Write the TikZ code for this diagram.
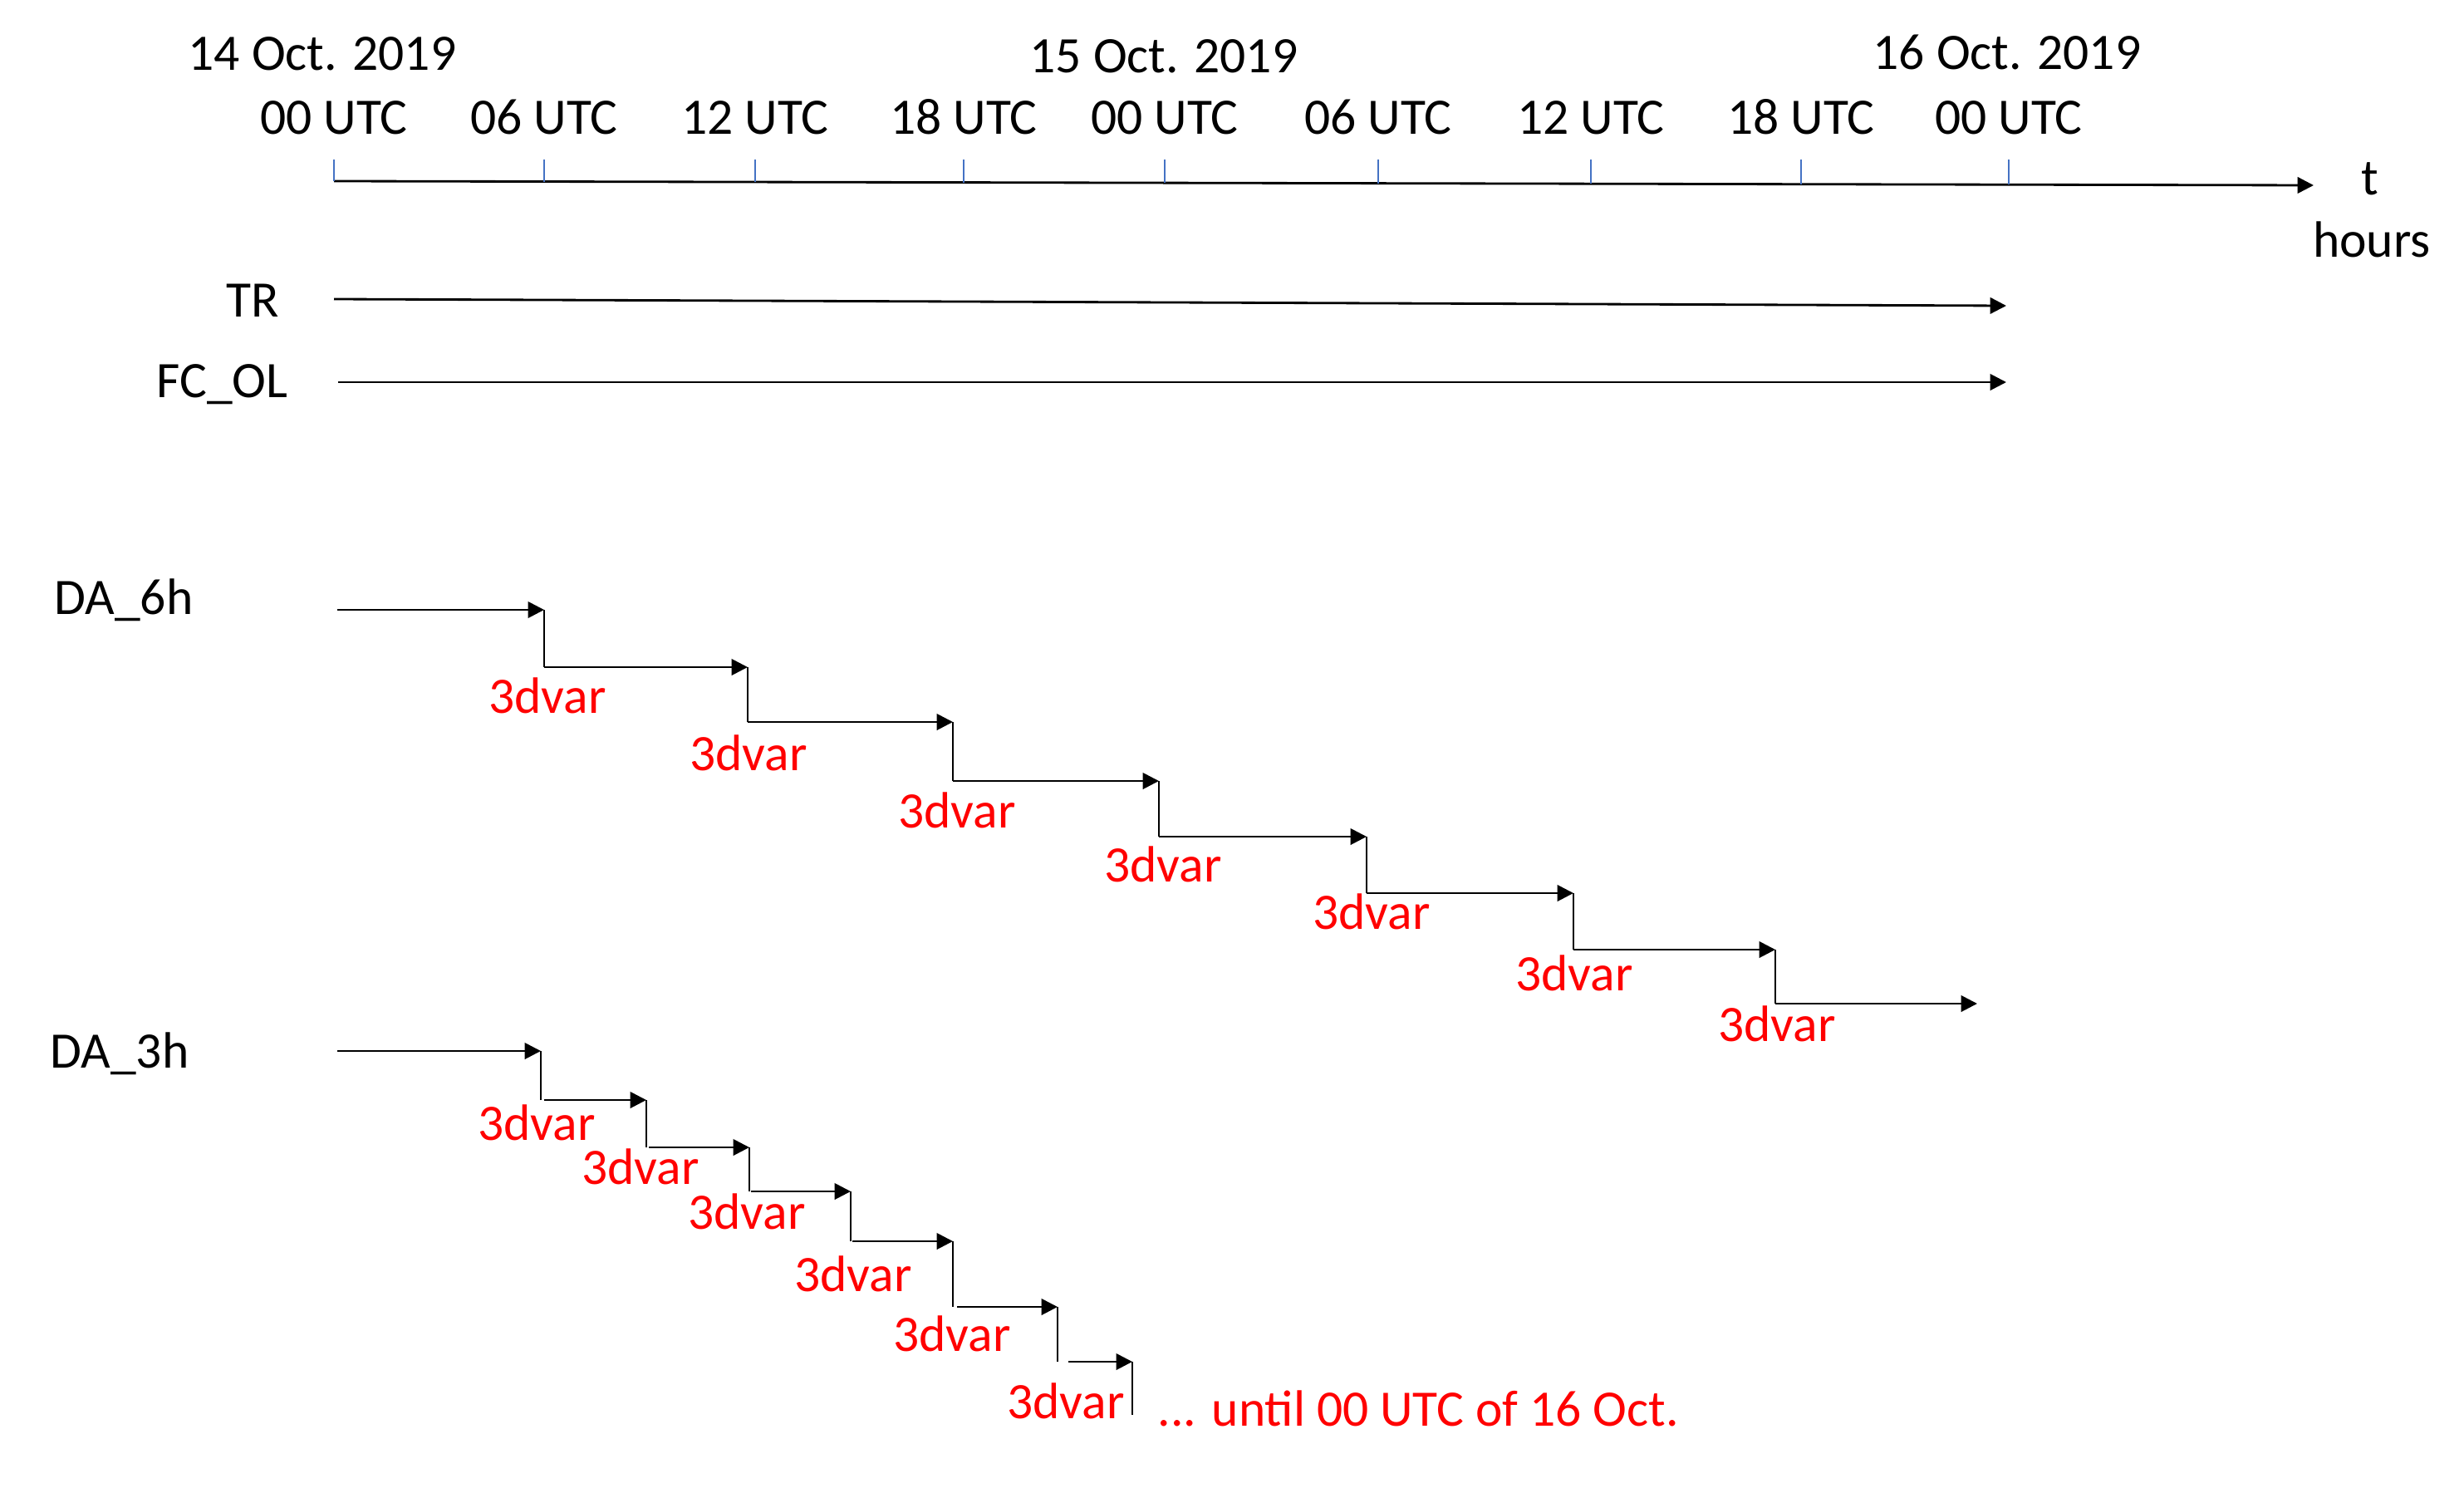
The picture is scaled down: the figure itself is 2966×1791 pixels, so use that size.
\documentclass[tikz,border=0pt]{standalone}
\usepackage{fontspec}
\setmainfont{Carlito}
\usetikzlibrary{arrows.meta}
\definecolor{tickblue}{HTML}{4472C4}
\definecolor{dared}{RGB}{255,0,0}
\begin{document}
\begin{tikzpicture}[x=0.01cm,y=-0.01cm,
  lbl/.style={font=\fontsize{17.5}{21}\selectfont, inner sep=0pt},
  redlbl/.style={lbl, text=dared},
  harrow/.style={line width=0.8pt, -{Triangle[length=5.5pt,width=5.5pt]}},
  vline/.style={line width=0.5pt},
  tickline/.style={tickblue, line width=0.45pt}]
\useasboundingbox (0,0) rectangle (2966,1791);
% dates
\node[lbl, anchor=base] (d14) at (388,85) {14 Oct. 2019};
\node[lbl, anchor=base] (d15) at (1401,88) {15 Oct. 2019};
\node[lbl, anchor=base] (d16) at (2416,84) {16 Oct. 2019};
% time axis
\coordinate (ax0) at (402,218);
\coordinate (ax1) at (2785,223);
\draw[harrow] (ax0) -- (ax1);
\foreach \x/\l [count=\i] in {402/00,655/06,909/12,1160/18,1402/00,1659/06,1915/12,2168/18,2418/00} {
  \node[lbl, anchor=base] (u\i) at (\x,162) {\l\ UTC};
  \coordinate (tk\i) at (\x,192);
  \coordinate (tb\i) at (\x,{218+(\x-402)*5/2383});
  \draw[tickline] (tk\i) -- (tb\i);
}
\node[lbl, anchor=base] (t) at (2853,235) {t};
\node[lbl, anchor=base] (hrs) at (2855,310) {hours};
% TR and FC_OL
\node[lbl, anchor=base east] (tr) at (337,381) {TR};
\coordinate (tr0) at (402,360);
\coordinate (tr1) at (2415,368);
\draw[harrow] (tr0) -- (tr1);
\node[lbl, anchor=base west] (fc) at (188,478) {FC\_OL};
\coordinate (fc0) at (407,460);
\coordinate (fc1) at (2415,460);
\draw[harrow] (fc0) -- (fc1);
% DA_6h
\node[lbl, anchor=base west] (da6) at (65,739) {DA\_6h};
\foreach \xa/\xb/\ya/\yb [count=\i] in {406/655/734/803, 655/900/803/869, 900/1147/869/940, 1147/1395/940/1007, 1395/1645/1007/1075, 1645/1894/1075/1143, 1894/2137/1143/1208} {
  \coordinate (a6s\i) at (\xa,\ya);
  \coordinate (a6e\i) at (\xb,\ya);
  \coordinate (a6v\i) at (\xb,\yb);
  \draw[harrow] (a6s\i) -- (a6e\i);
  \draw[vline] (a6e\i) -- (a6v\i);
}
\coordinate (a6end) at (2380,1208);
\draw[harrow] (a6v7) -- (a6end);
\foreach \x/\y [count=\i] in {659/858, 901/927, 1152/996, 1400/1061, 1651/1118, 1895/1192, 2139/1253} {
  \node[redlbl, anchor=base] (v6-\i) at (\x,\y) {3dvar};
}
% DA_3h
\node[lbl, anchor=base west] (da3) at (60,1285) {DA\_3h};
\foreach \xa/\xb/\ya/\yb [count=\i] in {406/651/1265/1324, 655/778/1324/1381, 781/902/1381/1434, 904/1024/1434/1494, 1026/1147/1494/1573, 1152/1273/1573/1639, 1286/1363/1639/1703} {
  \coordinate (a3s\i) at (\xa,\ya);
  \coordinate (a3e\i) at (\xb,\ya);
  \coordinate (a3v\i) at (\xb,\yb);
  \draw[harrow] (a3s\i) -- (a3e\i);
  \draw[vline] (a3e\i) -- (a3v\i);
}
\foreach \x/\y [count=\i] in {646/1372, 771/1425, 899/1479, 1027/1554, 1146/1626, 1283/1707} {
  \node[redlbl, anchor=base] (v3-\i) at (\x,\y) {3dvar};
}
\node[redlbl, anchor=base west] (until) at (1393,1716) {... until 00 UTC of 16 Oct.};
\end{tikzpicture}
\end{document}
